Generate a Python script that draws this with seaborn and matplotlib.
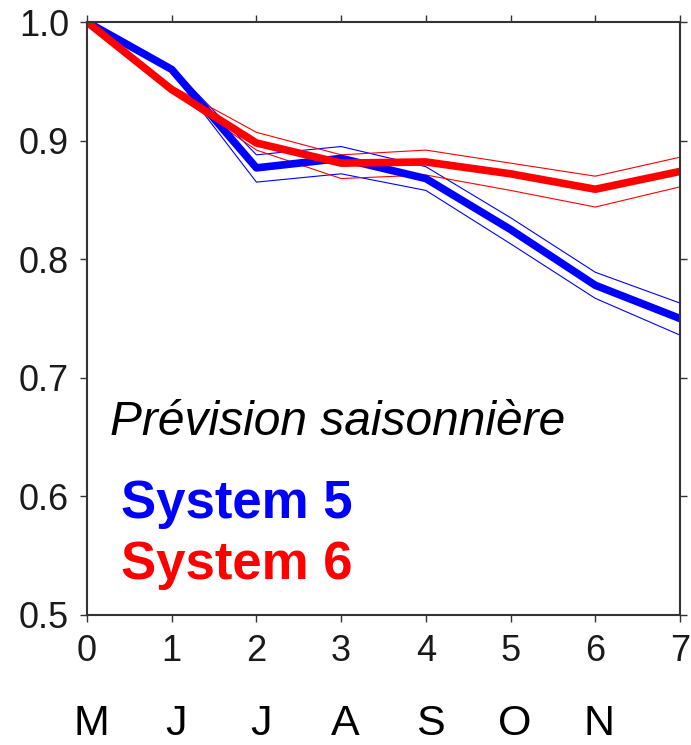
import matplotlib
matplotlib.use("Agg")
import matplotlib.pyplot as plt
import seaborn as sns

# Lead time (months since May start) and ratio values
lead = [0, 1, 2, 3, 4, 5, 6, 7]
s5_mean = [1.0, 0.960, 0.877, 0.885, 0.868, 0.825, 0.778, 0.750]
s5_hi = [1.0, 0.962, 0.888, 0.895, 0.878, 0.835, 0.789, 0.763]
s5_lo = [1.0, 0.958, 0.865, 0.872, 0.858, 0.813, 0.767, 0.736]
s6_mean = [1.0, 0.943, 0.898, 0.881, 0.882, 0.872, 0.859, 0.874]
s6_hi = [1.0, 0.946, 0.907, 0.888, 0.892, 0.881, 0.870, 0.886]
s6_lo = [1.0, 0.941, 0.892, 0.868, 0.871, 0.858, 0.844, 0.861]

months = ["M", "J", "J", "A", "S", "O", "N"]
yticks = [0.5, 0.6, 0.7, 0.8, 0.9, 1.0]

sns.set_theme(style="white")
plt.rcParams["font.family"] = ["Liberation Sans", "DejaVu Sans"]

fig = plt.figure(figsize=(6.91, 7.45), dpi=100)
ax = fig.add_axes([87 / 691, 1 - 615 / 745, (680 - 87) / 691, (615 - 22) / 745])

blue = "#0000ff"
red = "#ff0000"

for band in (s5_hi, s5_lo):
    sns.lineplot(x=lead, y=band, color=blue, lw=0.8, ax=ax)
for band in (s6_hi, s6_lo):
    sns.lineplot(x=lead, y=band, color=red, lw=0.8, ax=ax)
sns.lineplot(x=lead, y=s5_mean, color=blue, lw=5.5, ax=ax)
sns.lineplot(x=lead, y=s6_mean, color=red, lw=5.5, ax=ax)

ax.set_xlim(0, 7)
ax.set_ylim(0.5, 1.0)
ax.set_xticks(lead)
ax.set_xticklabels([str(v) for v in lead], fontsize=26)
ax.set_yticks(yticks)
ax.set_yticklabels([f"{v:.1f}" for v in yticks], fontsize=26)
ax.tick_params(axis="both", which="both", direction="out", length=5, width=1,
               color="#333333", labelcolor="#1a1a1a",
               top=True, right=True, bottom=True, left=True,
               labeltop=False, labelright=False)
ax.tick_params(axis="x", pad=9)
ax.tick_params(axis="y", pad=8)
for sp in ax.spines.values():
    sp.set_color("#333333")
    sp.set_linewidth(1.5)
ax.set_xlabel("")
ax.set_ylabel("")

# Annotations
fig.text(110 / 691, 1 - 435 / 745, "Prévision saisonnière",
         fontsize=34.5, style="italic", color="black", ha="left", va="baseline")
fig.text(121 / 691, 1 - 518 / 745, "System 5",
         fontsize=38, fontweight="bold", color=blue, ha="left", va="baseline")
fig.text(121 / 691, 1 - 579 / 745, "System 6",
         fontsize=38, fontweight="bold", color=red, ha="left", va="baseline")

# Calendar month names under each lead
for i, m in enumerate(months):
    x_fig = fig.transFigure.inverted().transform(ax.transData.transform((i, 0.5)))[0]
    fig.text(x_fig + 0.006, 0.001, m, fontsize=31, color="black",
             ha="center", va="bottom")

fig.savefig("out.png", dpi=100)
